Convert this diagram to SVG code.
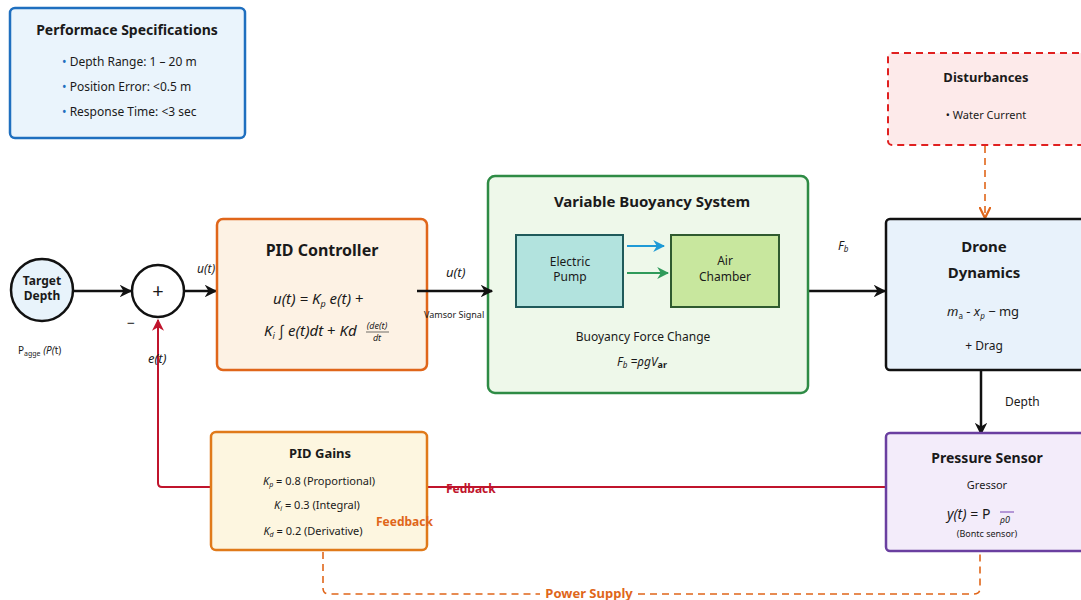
<svg xmlns="http://www.w3.org/2000/svg" width="1081" height="600" viewBox="0 0 1081 600">
  <style>
    text { font-family: "Noto Sans", "Open Sans", "DejaVu Sans", sans-serif; fill: #1a1a1a; }
    .title { font-weight: bold; }
    .it { font-style: italic; }
    .box { stroke-width: 2.5; }
    .wire { fill: none; stroke: #111; stroke-width: 2.5; }
    .fb { fill: none; stroke: #c0142c; stroke-width: 2; }
    .dash { fill: none; stroke: #e0661a; stroke-width: 1.6; stroke-dasharray: 7 5; }
  </style>
  <defs>
    <marker id="ah" viewBox="0 0 10 10" refX="9" refY="5" markerWidth="5" markerHeight="5" orient="auto">
      <path d="M0,0 L10,5 L0,10 L3,5 z" fill="#111"/>
    </marker>
    <marker id="ahRed" viewBox="0 0 10 10" refX="9" refY="5" markerWidth="6" markerHeight="6" orient="auto">
      <path d="M0,0 L10,5 L0,10 L3,5 z" fill="#c0142c"/>
    </marker>
    <marker id="ahOrange" viewBox="0 0 10 10" refX="9" refY="5" markerWidth="7" markerHeight="7" orient="auto">
      <path d="M0,0 L10,5 L0,10" fill="none" stroke="#e0661a" stroke-width="2"/>
    </marker>
    <marker id="ahBlue" viewBox="0 0 10 10" refX="9" refY="5" markerWidth="6" markerHeight="6" orient="auto">
      <path d="M0,0 L10,5 L0,10 L3,5 z" fill="#1e9ad6"/>
    </marker>
    <marker id="ahGreen" viewBox="0 0 10 10" refX="9" refY="5" markerWidth="6" markerHeight="6" orient="auto">
      <path d="M0,0 L10,5 L0,10 L3,5 z" fill="#2e9a5a"/>
    </marker>
  </defs>

  <rect width="1081" height="600" fill="#ffffff"/>

  <!-- Connectors -->
  <g id="connectors">
    <line class="wire" x1="73" y1="291" x2="131" y2="291" marker-end="url(#ah)"/>
    <line class="wire" x1="184" y1="291" x2="216" y2="291" marker-end="url(#ah)"/>
    <line class="wire" x1="801" y1="291" x2="885" y2="291" marker-end="url(#ah)"/>
    <line class="wire" x1="981" y1="366" x2="981" y2="434" marker-end="url(#ah)"/>
    <line class="dash" x1="985" y1="146" x2="985" y2="217" marker-end="url(#ahOrange)"/>
    <!-- feedback path -->
    <line class="fb" x1="888" y1="487" x2="424" y2="487"/>
    <path class="fb" d="M211,487 H162 Q158,487 158,483 V320" marker-end="url(#ahRed)"/>
    <!-- power supply -->
    <path class="dash" d="M323,552 V588 Q323,594 329,594 H540"/>
    <path class="dash" d="M638,594 H974 Q980,594 980,588 V552"/>
  </g>

  <!-- Performance specs -->
  <g id="specs">
    <rect x="10" y="8" width="235" height="130" rx="5" fill="#eaf4fc" stroke="#1f6fbf" class="box"/>
    <text x="127" y="35" font-size="14" class="title" text-anchor="middle">Performace Specifications</text>
    <text x="62" y="66" font-size="12"><tspan style="fill:#1f6fbf">•</tspan> Depth Range: 1 – 20 m</text>
    <text x="62" y="91" font-size="12"><tspan style="fill:#1f6fbf">•</tspan> Position Error: &lt;0.5 m</text>
    <text x="62" y="116" font-size="12"><tspan style="fill:#1f6fbf">•</tspan> Response Time: &lt;3 sec</text>
  </g>

  <!-- Target depth -->
  <g id="target">
    <circle cx="42" cy="290" r="31" fill="#e8f3fb" stroke="#111" stroke-width="2.5"/>
    <text x="42" y="285" font-size="12" class="title" text-anchor="middle">Target</text>
    <text x="42" y="300" font-size="12" class="title" text-anchor="middle">Depth</text>
    <text x="18" y="354" font-size="10">P<tspan font-size="7" dy="2">agge</tspan><tspan dy="-2" class="it"> (P(</tspan>t)</text>
  </g>

  <!-- Summing junction -->
  <g id="sum">
    <circle cx="158" cy="291" r="26" fill="#ffffff" stroke="#111" stroke-width="2.5"/>
    <text x="158" y="298" font-size="20" text-anchor="middle">+</text>
  </g>

  <!-- PID controller -->
  <g id="pid">
    <rect x="217" y="219" width="210" height="151" rx="6" fill="#fdf2e4" stroke="#e0661a" class="box"/>
    <text x="322" y="256" font-size="16" class="title" text-anchor="middle">PID Controller</text>
    <text x="273" y="304" font-size="15" class="it">u(t) = K<tspan font-size="9" dy="3">p</tspan><tspan dy="-3"> e(t) </tspan><tspan font-style="normal">+</tspan></text>
    <text x="264" y="336" font-size="15" class="it">K<tspan font-size="9" dy="3">i</tspan><tspan dy="-3"> ∫ e(t)dt </tspan><tspan font-style="normal">+</tspan> Kd</text>
    <text x="377" y="329" font-size="9" class="it" text-anchor="middle">(de(t)</text>
    <line x1="366" y1="332" x2="389" y2="332" stroke="#111" stroke-width="0.6"/>
    <text x="377" y="341" font-size="9" class="it" text-anchor="middle">dt</text>
  </g>

  <!-- Variable buoyancy system -->
  <g id="buoyancy">
    <rect x="488" y="176" width="320" height="217" rx="7" fill="#eef8ea" stroke="#2e8b45" class="box"/>
    <text x="652" y="207" font-size="15" class="title" text-anchor="middle">Variable Buoyancy System</text>
    <g id="pump">
      <rect x="516" y="235" width="107" height="72" fill="#b2e3de" stroke="#1f5a5a" stroke-width="2"/>
      <text x="570" y="266" font-size="12" text-anchor="middle">Electric</text>
      <text x="570" y="281" font-size="12" text-anchor="middle">Pump</text>
    </g>
    <g id="chamber">
      <rect x="671" y="235" width="108" height="72" fill="#c8e79e" stroke="#2f5a2f" stroke-width="2"/>
      <text x="725" y="265" font-size="12" text-anchor="middle">Air</text>
      <text x="725" y="281" font-size="12" text-anchor="middle">Chamber</text>
    </g>
    <line x1="627" y1="246" x2="664" y2="246" stroke="#1e9ad6" stroke-width="2" marker-end="url(#ahBlue)"/>
    <line x1="627" y1="273" x2="668" y2="273" stroke="#2e9a5a" stroke-width="2" marker-end="url(#ahGreen)"/>
    <text x="643" y="341" font-size="12" text-anchor="middle">Buoyancy Force Change</text>
    <text x="617" y="366" font-size="12" class="it">F<tspan font-size="8" dy="2">b</tspan><tspan dy="-2"> =ρgV</tspan><tspan font-size="9" dy="2" font-style="normal" font-weight="bold">ar</tspan></text>
  </g>

  <!-- Drone dynamics -->
  <g id="drone">
    <rect x="886" y="219" width="200" height="151" rx="4" fill="#e8f2fb" stroke="#111" class="box"/>
    <text x="984" y="252" font-size="15" class="title" text-anchor="middle">Drone</text>
    <text x="984" y="278" font-size="15" class="title" text-anchor="middle">Dynamics</text>
    <text x="947" y="316" font-size="13"><tspan class="it">m</tspan><tspan font-size="8" dy="3">a</tspan><tspan dy="-3"> - </tspan><tspan class="it">x</tspan><tspan font-size="8" dy="3" class="it">p</tspan><tspan dy="-3"> − mg</tspan></text>
    <text x="984" y="350" font-size="12" text-anchor="middle">+ Drag</text>
  </g>

  <!-- Disturbances -->
  <g id="disturbances">
    <rect x="888" y="53" width="200" height="92" rx="4" fill="#fdeaea" stroke="#e02020" stroke-width="2" stroke-dasharray="7 5"/>
    <text x="986" y="82" font-size="13" class="title" text-anchor="middle">Disturbances</text>
    <text x="986" y="119" font-size="11" text-anchor="middle">• Water Current</text>
  </g>

  <!-- Pressure sensor -->
  <g id="sensor">
    <rect x="886" y="433" width="200" height="118" rx="4" fill="#f3ecfa" stroke="#6a3fa0" class="box"/>
    <text x="987" y="463" font-size="14" class="title" text-anchor="middle">Pressure Sensor</text>
    <text x="987" y="489" font-size="11" text-anchor="middle">Gressor</text>
    <text x="947" y="519" font-size="14"><tspan class="it">y(t)</tspan> =  P</text>
    <line x1="1000" y1="512" x2="1014" y2="512" stroke="#8a5fc0" stroke-width="1.2"/>
    <text x="1000" y="523" font-size="9" class="it">ρ0</text>
    <text x="987" y="537" font-size="9" text-anchor="middle">(Bontc sensor)</text>
  </g>

  <!-- PID gains -->
  <g id="gains">
    <rect x="211" y="432" width="216" height="118" rx="5" fill="#fdf6e0" stroke="#e07a1a" class="box"/>
    <text x="320" y="458" font-size="13" class="title" text-anchor="middle">PID Gains</text>
    <text x="319" y="485" font-size="11" text-anchor="middle"><tspan class="it">K</tspan><tspan font-size="7" dy="2" class="it">p</tspan><tspan dy="-2"> = 0.8 (Proportional)</tspan></text>
    <text x="317" y="509" font-size="11" text-anchor="middle"><tspan class="it">K</tspan><tspan font-size="7" dy="2" class="it">i</tspan><tspan dy="-2"> = 0.3 (Integral)</tspan></text>
    <text x="313" y="535" font-size="11" text-anchor="middle"><tspan class="it">K</tspan><tspan font-size="7" dy="2" class="it">d</tspan><tspan dy="-2"> = 0.2 (Derivative)</tspan></text>
  </g>

  <!-- Connector lines drawn over box edges, and connector labels -->
  <g id="connector-labels">
    <line class="wire" x1="417" y1="291" x2="492" y2="291" marker-end="url(#ah)"/>
    <text x="197" y="273" font-size="12" class="it">u(t)</text>
    <text x="127" y="328" font-size="14">−</text>
    <text x="148" y="363" font-size="13" class="it">e(t)</text>
    <text x="446" y="277" font-size="13" class="it">u(t)</text>
    <text x="424" y="318" font-size="9">Vamsor Signal</text>
    <text x="838" y="250" font-size="12" class="it">F<tspan font-size="8" dy="2">b</tspan></text>
    <text x="1005" y="406" font-size="12">Depth</text>
    <text x="446" y="493" font-size="12" class="title" style="fill:#c0142c">Fedback</text>
    <text x="376" y="526" font-size="12" class="title" style="fill:#e0661a">Feedback</text>
    <text x="589" y="598" font-size="13" class="title" text-anchor="middle" style="fill:#e0661a">Power Supply</text>
  </g>
</svg>
